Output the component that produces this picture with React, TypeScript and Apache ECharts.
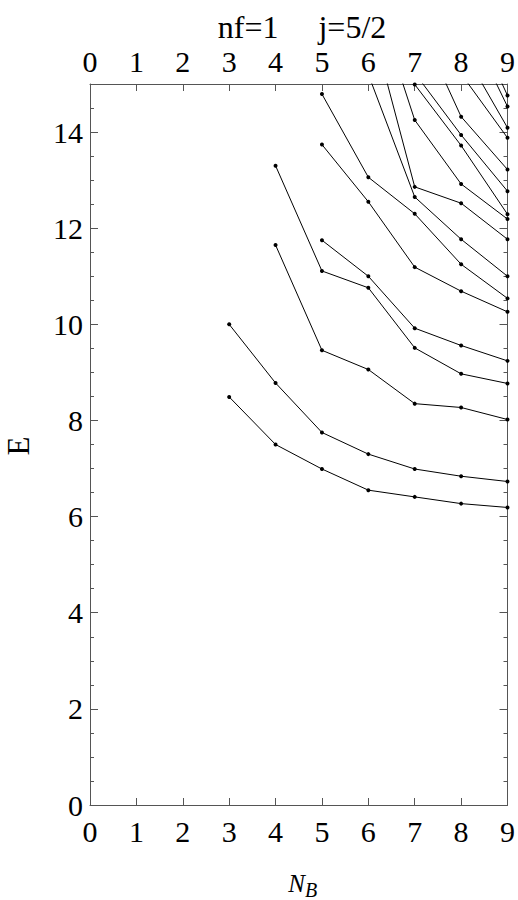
import React, { useEffect, useRef } from "react";
import * as echarts from "echarts";

// N_B values (x positions of the eigenvalue columns)
const nB = [3, 4, 5, 6, 7, 8, 9];
// Energy levels, indexed by level number; null = level absent for that N_B.
// Values above 15 lie outside the plot range and are only there so the clipped lines enter from the top.
const level1 = [8.49, 7.5, 6.99, 6.55, 6.41, 6.27, 6.19];
const level2 = [10.0, 8.78, 7.75, 7.3, 6.99, 6.84, 6.73];
const level3 = [null, 11.65, 9.46, 9.06, 8.35, 8.27, 8.02];
const level4 = [null, 13.3, 11.11, 10.76, 9.51, 8.97, 8.77];
const level5 = [null, null, 11.75, 11.0, 9.92, 9.56, 9.24];
const level6 = [null, null, 13.74, 12.55, 11.19, 10.69, 10.26];
const level7 = [null, null, 14.79, 13.06, 12.3, 11.25, 10.54];
const level8 = [null, null, null, 15.2, 12.65, 11.77, 11.0];
const level9 = [null, null, null, 16.5, 12.86, 12.52, 11.77];
const level10 = [null, null, null, 17.21, 14.25, 12.92, 12.19];
const level11 = [null, null, null, 18.0, 14.99, 13.72, 12.29];
const level12 = [null, null, null, null, 15.23, 13.94, 12.77];
const level13 = [null, null, null, null, 16.43, 14.32, 13.22];
const level14 = [null, null, null, null, null, 15.21, 13.88];
const level15 = [null, null, null, null, null, 15.77, 14.09];
const level16 = [null, null, null, null, null, 16.52, 14.53];
const level17 = [null, null, null, null, null, 16.87, 14.76];

const levels = [
  level1, level2, level3, level4, level5, level6, level7, level8, level9,
  level10, level11, level12, level13, level14, level15, level16, level17,
];

const xTicks = [0, 1, 2, 3, 4, 5, 6, 7, 8, 9];
const yMax = 15;
const titleText = "nf=1     j=5/2";
const yName = "E";
const xNameMain = "N";
const xNameSub = "B";

const FONT = "Liberation Serif, Times New Roman, serif";
const FRAME = "#555";

export default function App() {
  const ref = useRef<HTMLDivElement>(null);

  useEffect(() => {
    if (!ref.current) return;
    const chart = echarts.init(ref.current, undefined, { renderer: "svg" });

    const series = levels.map((lv, i) => ({
      type: "line",
      name: "level" + (i + 1),
      data: nB
        .map((x, k) => (lv[k] == null ? null : [x, lv[k]]))
        .filter((p) => p !== null),
      clip: true,
      symbol: "circle",
      symbolSize: 4,
      showSymbol: true,
      lineStyle: { color: "#000", width: 1 },
      itemStyle: { color: "#000" },
      xAxisIndex: 0,
      yAxisIndex: 0,
      silent: true,
    }));

    const xAxisBase = {
      type: "value",
      min: xTicks[0],
      max: xTicks[xTicks.length - 1],
      interval: 1,
      splitLine: { show: false },
      axisLine: { show: true, onZero: false, lineStyle: { color: FRAME, width: 1 } },
      axisTick: { show: true, inside: true, length: 7, lineStyle: { color: FRAME } },
    };
    const yAxisBase = {
      type: "value",
      min: 0,
      max: yMax,
      interval: 2,
      splitLine: { show: false },
      axisLine: { show: true, onZero: false, lineStyle: { color: FRAME, width: 1 } },
      axisTick: { show: true, inside: true, length: 8, lineStyle: { color: FRAME } },
      minorTick: { show: true, splitNumber: 4, length: 4, lineStyle: { color: FRAME } },
    };

    const labelStyle = { fontSize: 30, color: "#000", fontFamily: FONT };

    chart.setOption({
      animation: false,
      backgroundColor: "#fff",
      grid: { left: 90, right: 8.5, top: 84, bottom: 95, containLabel: false },
      xAxis: [
        { ...xAxisBase, position: "bottom", axisLabel: { show: true, margin: 11, ...labelStyle } },
        { ...xAxisBase, position: "top", axisLabel: { show: true, margin: 8, ...labelStyle } },
      ],
      yAxis: [
        {
          ...yAxisBase,
          position: "left",
          axisLabel: {
            show: true,
            margin: 7,
            ...labelStyle,
            formatter: (v: number) => (v % 2 === 0 ? String(v) : ""),
          },
        },
        { ...yAxisBase, position: "right", axisLabel: { show: false } },
      ],
      series,
      graphic: [
        {
          type: "text",
          x: 302,
          y: 27,
          style: {
            text: titleText,
            fontSize: 32,
            fontFamily: FONT,
            fill: "#000",
            align: "center",
            verticalAlign: "middle",
          },
        },
        {
          type: "text",
          x: 18,
          y: 446,
          rotation: Math.PI / 2,
          style: {
            text: yName,
            fontSize: 31,
            fontFamily: FONT,
            fill: "#000",
            align: "center",
            verticalAlign: "middle",
          },
        },
        {
          type: "text",
          x: 305,
          y: 883,
          style: {
            text: xNameMain,
            fontSize: 25,
            fontStyle: "italic",
            fontFamily: FONT,
            fill: "#000",
            align: "right",
            verticalAlign: "middle",
          },
        },
        {
          type: "text",
          x: 305,
          y: 890,
          style: {
            text: xNameSub,
            fontSize: 20,
            fontStyle: "italic",
            fontFamily: FONT,
            fill: "#000",
            align: "left",
            verticalAlign: "middle",
          },
        },
      ],
    });

    return () => chart.dispose();
  }, []);

  return (
    <div
      ref={ref}
      style={{ position: "fixed", left: 0, top: 0, width: 518, height: 900, background: "#fff" }}
    />
  );
}
